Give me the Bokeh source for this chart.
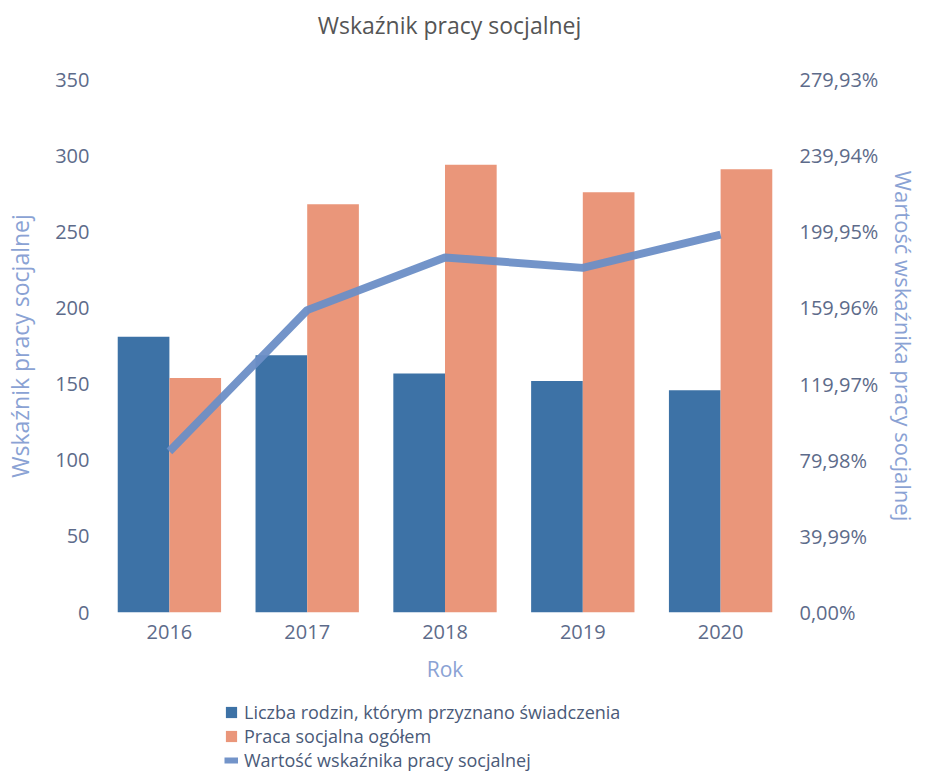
from bokeh.plotting import figure
from bokeh.layouts import column
from bokeh.models import (ColumnDataSource, FactorRange, Range1d, LinearAxis,
                          FixedTicker, CustomJSTickFormatter, Legend, LegendItem, Label)
from bokeh.transform import dodge
from bokeh.embed import file_html
from bokeh.resources import INLINE

years = ["2016", "2017", "2018", "2019", "2020"]
rodziny = [181, 169, 157, 152, 146]
praca = [154, 268, 294, 276, 291]
wskaznik = [84.6, 158.8, 186.5, 181.0, 198.5]

left_ticks = [0, 50, 100, 150, 200, 250, 300, 350]
right_ticks = [0.0, 39.99, 79.98, 119.97, 159.96, 199.95, 239.94, 279.93]

chart_title = "Wskaźnik pracy socjalnej"
series_names = ["Liczba rodzin, którym przyznano świadczenia",
                "Praca socjalna ogółem",
                "Wartość wskaźnika pracy socjalnej"]

FONT = "Open Sans"
TICK_COLOR = "#5d6b8a"
AXTITLE_COLOR = "#8aa2d4"
BLUE = "#3d72a6"
ORANGE = "#ea967a"
LINE = "#6c8ec6"

W = 922
ML, MR = 100, 130

# ---- title strip ----
t = figure(width=W, height=40, x_range=Range1d(0, 1), y_range=Range1d(0, 1),
           output_backend="svg", toolbar_location=None, min_border=0,
           min_border_left=ML, min_border_right=MR,
           outline_line_color=None, background_fill_color="white",
           border_fill_color="white")
t.axis.visible = False
t.xgrid.grid_line_color = None
t.ygrid.grid_line_color = None
t.add_layout(Label(x=349, y=16, x_units="screen", y_units="screen",
                   text=chart_title, text_align="center", text_baseline="middle",
                   text_font=FONT, text_font_size="23px", text_color="#555555"))

# ---- main chart ----
src = ColumnDataSource(dict(year=years, rodziny=rodziny, praca=praca, wsk=wskaznik))

p = figure(width=W, height=656, x_range=FactorRange(*years, range_padding=0),
           y_range=Range1d(0, 350), output_backend="svg", toolbar_location=None,
           min_border_left=ML, min_border_right=MR, min_border_top=39,
           min_border_bottom=84, outline_line_color=None,
           background_fill_color="white", border_fill_color="white")
p.extra_y_ranges = {"pct": Range1d(0, 279.93)}

p.xgrid.grid_line_color = None
p.ygrid.grid_line_color = None

b1 = p.vbar(x=dodge("year", -0.1875, range=p.x_range), top="rodziny", width=0.375,
            source=src, fill_color=BLUE, line_color=None)
b2 = p.vbar(x=dodge("year", 0.1875, range=p.x_range), top="praca", width=0.375,
            source=src, fill_color=ORANGE, line_color=None)
ln = p.line(x="year", y="wsk", source=src, y_range_name="pct",
            line_color=LINE, line_width=8, line_alpha=0.95)

# left axis
ya = p.yaxis[0]
ya.ticker = FixedTicker(ticks=left_ticks)
ya.axis_label = "Wskaźnik pracy socjalnej"
ya.axis_label_text_font = FONT
ya.axis_label_text_font_style = "normal"
ya.axis_label_text_font_size = "23px"
ya.axis_label_text_color = AXTITLE_COLOR
ya.axis_label_standoff = 16
ya.major_label_text_font = FONT
ya.major_label_text_font_size = "20px"
ya.major_label_text_color = TICK_COLOR
ya.major_label_standoff = 11
ya.axis_line_color = None
ya.major_tick_line_color = None
ya.minor_tick_line_color = None
ya.major_tick_out = 0
ya.major_tick_in = 0

# right axis
ra = LinearAxis(y_range_name="pct", ticker=FixedTicker(ticks=right_ticks))
ra.formatter = CustomJSTickFormatter(code="return tick.toFixed(2).replace('.', ',') + '%';")
ra.axis_label = "Wartość wskaźnika pracy socjalnej"
ra.axis_label_text_font = FONT
ra.axis_label_text_font_style = "normal"
ra.axis_label_text_font_size = "22px"
ra.axis_label_text_color = AXTITLE_COLOR
ra.axis_label_standoff = 8
ra.major_label_text_font = FONT
ra.major_label_text_font_size = "20px"
ra.major_label_text_color = TICK_COLOR
ra.major_label_standoff = 10
ra.axis_line_color = None
ra.major_tick_line_color = None
ra.minor_tick_line_color = None
ra.major_tick_out = 0
ra.major_tick_in = 0
p.add_layout(ra, "right")

# x axis
xa = p.xaxis[0]
xa.axis_label = "Rok"
xa.axis_label_text_font = FONT
xa.axis_label_text_font_style = "normal"
xa.axis_label_text_font_size = "21px"
xa.axis_label_text_color = AXTITLE_COLOR
xa.axis_label_standoff = 13
xa.major_label_text_font = FONT
xa.major_label_text_font_size = "20px"
xa.major_label_text_color = TICK_COLOR
xa.major_label_standoff = 12
xa.axis_line_color = None
xa.major_tick_line_color = None
xa.minor_tick_line_color = None
xa.major_tick_out = 0
xa.major_tick_in = 0

# ---- legend strip below the chart ----
q = figure(width=W, height=77, x_range=Range1d(0, 1), y_range=Range1d(0, 1),
           output_backend="svg", toolbar_location=None, min_border=0,
           min_border_left=ML, min_border_right=MR,
           outline_line_color=None, background_fill_color="white",
           border_fill_color="white")
q.axis.visible = False
q.xgrid.grid_line_color = None
q.ygrid.grid_line_color = None
# legend-key renderers, kept outside the visible range
key_src = ColumnDataSource(dict(x=[-10, -9], y=[-10, -10]))
g1 = q.vbar(x="x", top="y", width=0.1, source=key_src, fill_color=BLUE, line_color=None)
g2 = q.vbar(x="x", top="y", width=0.1, source=key_src, fill_color=ORANGE, line_color=None)
g3 = q.line(x="x", y="y", source=key_src, line_color=LINE, line_width=6, line_alpha=0.95)

for name, rend, ybot in zip(series_names, [g1, g2, g3], [49, 25, 1]):
    lg = Legend(items=[LegendItem(label=name, renderers=[rend])],
                orientation="vertical", location=(124, ybot))
    lg.label_text_font = FONT
    lg.label_text_font_size = "18px"
    lg.label_text_color = "#4a5a78"
    lg.glyph_width = 14
    lg.glyph_height = 14
    lg.label_standoff = 6
    lg.spacing = 0
    lg.padding = 0
    lg.margin = 0
    lg.border_line_color = None
    lg.background_fill_alpha = 0
    lg.label_height = 20
    q.add_layout(lg)

layout = column(t, p, q, spacing=0)
open("out.html", "w").write(file_html(layout, INLINE))
